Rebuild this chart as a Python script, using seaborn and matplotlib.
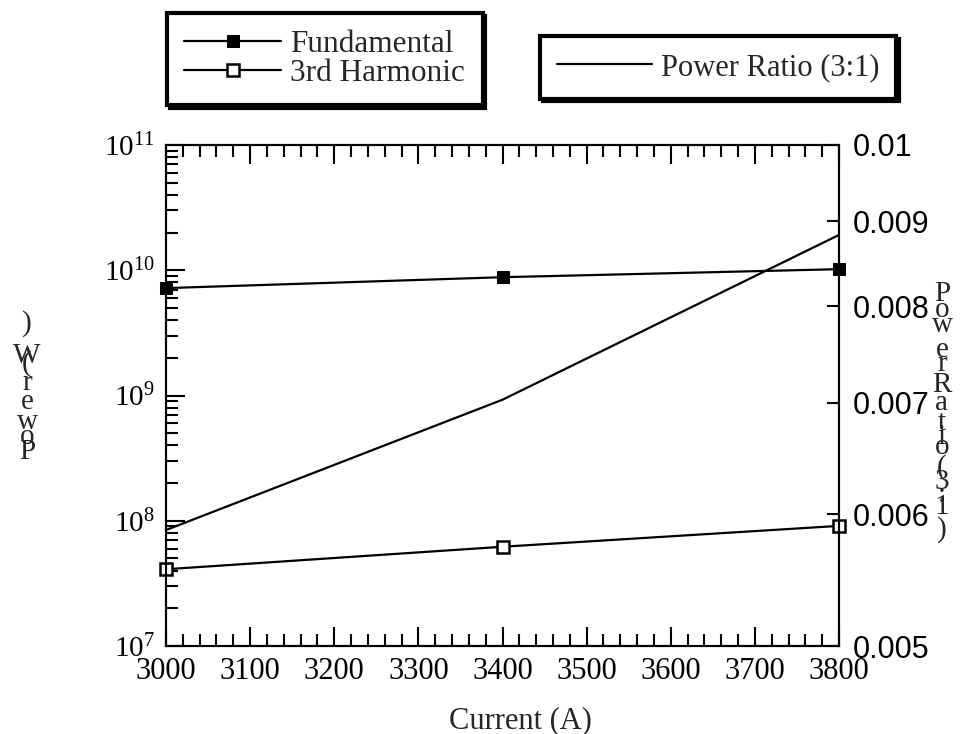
"""Fundamental / 3rd harmonic power vs current, with power ratio on a twin axis."""

import matplotlib
matplotlib.use("Agg")
import matplotlib.pyplot as plt
import matplotlib.ticker as ticker
import numpy as np
import seaborn as sns

# values
current = [3000, 3400, 3800]
fundamental = [7.2e9, 8.8e9, 1.02e10]
harmonic_3rd = [4.1e7, 6.2e7, 9.1e7]
power_ratio = [0.00587, 0.00703, 0.00883]

x_ticks = [3000, 3100, 3200, 3300, 3400, 3500, 3600, 3700, 3800]
ratio_ticks = [0.005, 0.006, 0.007, 0.008, 0.009, 0.01]
ratio_tick_labels = ["0.005", "0.006", "0.007", "0.008", "0.009", "0.01"]

x_label = "Current (A)"
left_label = "Power (W)"
right_label = "Power Ratio (3:1)"

W, H = 966, 734


def stacked_label(fig, x_px, chars, y_px, size=20):
    """Letters stacked one under another, as the old plotting program did."""
    for ch, yy in zip(chars, y_px):
        fig.text(x_px / W, 1 - yy / H, ch, ha="center", va="center", fontsize=size)


sns.set_theme(style="ticks")
plt.rcParams.update({
    "font.family": ["Liberation Serif", "DejaVu Serif"],
    "mathtext.fontset": "stix",
    "axes.linewidth": 1.5,
    "axes.edgecolor": "black",
    "xtick.color": "black", "ytick.color": "black",
    "axes.grid": False,
})

fig = plt.figure(figsize=(W / 100, H / 100), dpi=100)
ax = fig.add_axes([166 / W, 1 - 646 / H, (839 - 166) / W, (646 - 145) / H])
ax2 = ax.twinx()

sns.lineplot(x=current, y=fundamental, ax=ax, color="black", lw=1.6, marker="s", ms=9,
             mfc="black", mec="black", clip_on=False, label="Fundamental", legend=False)
sns.lineplot(x=current, y=harmonic_3rd, ax=ax, color="black", lw=1.6, marker="s", ms=9,
             mfc="white", mec="black", mew=1.8, clip_on=False, label="3rd Harmonic", legend=False)
sns.lineplot(x=current, y=power_ratio, ax=ax2, color="black", lw=1.6,
             clip_on=False, label="Power Ratio (3:1)", legend=False)

ax.set_xlim(3000, 3800)
ax.set_yscale("log")
ax.set_ylim(1e7, 1e11)
ax.xaxis.set_major_locator(ticker.FixedLocator(x_ticks))
ax.xaxis.set_minor_locator(ticker.MultipleLocator(20))
ax.yaxis.set_major_locator(ticker.LogLocator(base=10, numticks=10))
ax.yaxis.set_minor_locator(ticker.LogLocator(base=10, subs=np.arange(2, 10), numticks=10))
ax.yaxis.set_major_formatter(ticker.LogFormatterMathtext())
ax.tick_params(axis="x", which="both", direction="in", top=True, bottom=True,
               width=1.5, labelsize=22, pad=8)
ax.tick_params(axis="y", which="both", direction="in", left=True, right=False,
               width=1.5, labelsize=21, pad=8)
ax.tick_params(which="major", length=13.5)
ax.tick_params(which="minor", length=8.5)
ax.set_xlabel(x_label, fontsize=22)
ax.xaxis.set_label_coords(0.526, -0.12)
ax.set_ylabel("")

ax2.set_yscale("log")
ax2.set_ylim(0.005, 0.01)
ax2.yaxis.set_major_locator(ticker.FixedLocator(ratio_ticks))
ax2.yaxis.set_major_formatter(ticker.FixedFormatter(ratio_tick_labels))
ax2.yaxis.set_minor_locator(ticker.NullLocator())
ax2.tick_params(axis="y", which="major", direction="in", length=8.5, width=1.5,
                labelsize=22, pad=10, labelfontfamily="Liberation Sans")
ax2.set_ylabel("")
for a in (ax, ax2):
    for sp in a.spines.values():
        sp.set_visible(True)
        sp.set_linewidth(1.5)
        sp.set_color("black")

# stacked axis titles
stacked_label(fig, 27, list(left_label.replace(" ", ""))[::-1],
              [324, 356, 364, 383, 402, 422, 437, 452], size=21)
stacked_label(fig, 942, list(right_label.replace(" ", "")),
              [294, 310, 325, 350, 364, 385, 403, 423, 437, 447, 468, 482, 495, 507, 530], size=21)

# the two boxed legends with a hard black shadow
h1, l1 = ax.get_legend_handles_labels()
h2, l2 = ax2.get_legend_handles_labels()
box = dict(frameon=True, fancybox=False, edgecolor="black", framealpha=1,
           shadow={"color": "black", "alpha": 1}, handlelength=3.1, handletextpad=0.3,
           borderaxespad=0, borderpad=0.55)
leg1 = fig.legend(h1, l1, loc="upper left", bbox_to_anchor=(167 / W, 1 - 13 / H),
                  fontsize=22.5, labelspacing=0.0, **box)
leg2 = fig.legend(h2, l2, loc="upper left", bbox_to_anchor=(540 / W, 1 - 36 / H),
                  fontsize=22, **box)
for leg in (leg1, leg2):
    leg.get_frame().set_linewidth(3)

fig.savefig("out.png", dpi=100)
plt.close(fig)
